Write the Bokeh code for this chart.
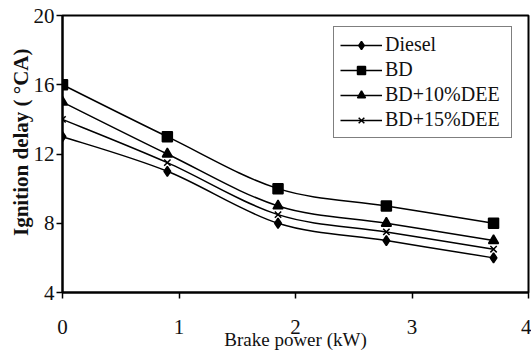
import numpy as np
from bokeh.plotting import figure
from bokeh.models import Legend, LegendItem, FixedTicker, Range1d, Title
from bokeh.embed import file_html
from bokeh.resources import INLINE

# ---- data ----
brake_power = [0, 0.9, 1.85, 2.78, 3.7]
diesel = [13, 11, 8, 7, 6]
bd = [16, 13, 10, 9, 8]
bd_10dee = [15, 12, 9, 8, 7]
bd_15dee = [14, 11.5, 8.5, 7.5, 6.5]

series_names = ["Diesel", "BD", "BD+10%DEE", "BD+15%DEE"]
series_values = [diesel, bd, bd_10dee, bd_15dee]
x_ticks = [0, 1, 2, 3, 4]
y_ticks = [4, 8, 12, 16, 20]

markers = ["diamond", "square", "triangle", "x"]
marker_sizes = [10, 10, 10, 9]
FONT = "Liberation Serif"

p = figure(width=531, height=356, output_backend="svg", toolbar_location=None,
           x_range=Range1d(0, 4), y_range=Range1d(4, 20),
           min_border_left=62, min_border_right=3, min_border_top=15, min_border_bottom=64)
p.background_fill_color = "white"
p.border_fill_color = "white"
p.grid.visible = False
p.outline_line_color = "black"
p.outline_line_width = 2

for ax in (p.xaxis[0], p.yaxis[0]):
    ax.axis_line_width = 2
    ax.axis_line_color = "black"
    ax.major_tick_line_color = "black"
    ax.major_tick_line_width = 1.5
    ax.major_tick_out = 6
    ax.major_tick_in = 0
    ax.minor_tick_line_color = None
    ax.major_label_text_font = FONT
    ax.major_label_text_font_size = "21px"
    ax.major_label_text_color = "#111111"

p.xaxis[0].ticker = FixedTicker(ticks=x_ticks)
p.yaxis[0].ticker = FixedTicker(ticks=y_ticks)
p.xaxis[0].major_label_standoff = 21
p.yaxis[0].major_label_standoff = 2

p.xaxis[0].axis_label = "Brake power (kW)"
p.xaxis[0].axis_label_text_font = FONT
p.xaxis[0].axis_label_text_font_size = "19px"
p.xaxis[0].axis_label_text_font_style = "normal"
p.xaxis[0].axis_label_text_color = "#111111"
p.xaxis[0].axis_label_standoff = -8

ytitle = Title(text="Ignition delay ( °CA)", align="right", offset=33,
               text_font=FONT, text_font_size="21px", text_font_style="bold",
               text_color="#111111", standoff=-5)
p.add_layout(ytitle, "left")


def bezier_controls(xs, ys, t=1.0 / 6.0):
    n = len(xs)
    out = dict(x0=[], y0=[], x1=[], y1=[], cx0=[], cy0=[], cx1=[], cy1=[])
    for i in range(n - 1):
        a = i - 1 if i > 0 else i
        b = i + 2 if i + 2 < n else i + 1
        out["x0"].append(xs[i]); out["y0"].append(ys[i])
        out["x1"].append(xs[i + 1]); out["y1"].append(ys[i + 1])
        out["cx0"].append(xs[i] + (xs[i + 1] - xs[a]) * t)
        out["cy0"].append(ys[i] + (ys[i + 1] - ys[a]) * t)
        out["cx1"].append(xs[i + 1] - (xs[b] - xs[i]) * t)
        out["cy1"].append(ys[i + 1] - (ys[b] - ys[i]) * t)
    return out


items = []
for name, vals, m, s in zip(series_names, series_values, markers, marker_sizes):
    c = bezier_controls(brake_power, vals)
    r_line = p.bezier(line_color="black", line_width=1.5, **c)
    r_pts = p.scatter(brake_power, vals, marker=m, size=s, fill_color="black",
                      line_color="black", line_width=1.5)
    items.append(LegendItem(label=name, renderers=[r_line, r_pts]))

legend = Legend(items=items, location=(271, 154))
legend.label_text_font = FONT
legend.label_text_font_size = "20px"
legend.label_text_color = "#111111"
legend.glyph_width = 42
legend.glyph_height = 20
legend.label_height = 20
legend.label_width = 120
legend.label_standoff = 3
legend.spacing = 2
legend.padding = 6
legend.border_line_color = "black"
legend.border_line_width = 1
legend.background_fill_color = "white"
legend.background_fill_alpha = 1
p.add_layout(legend, "center")

open("out.html", "w").write(file_html(p, INLINE))
